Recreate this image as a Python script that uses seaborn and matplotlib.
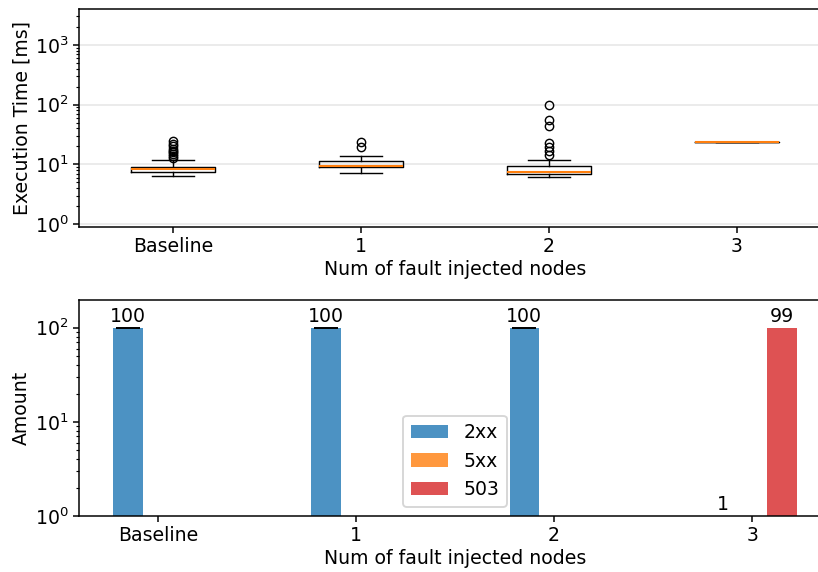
import numpy as np
import pandas as pd
import matplotlib
matplotlib.use("Agg")
import matplotlib.pyplot as plt
import seaborn as sns

# ---- data -------------------------------------------------------------
groups = ["Baseline", "1", "2", "3"]

# execution-time box summaries per group [ms]
exec_q1 = [7.35, 9.1, 6.96, 23.4]
exec_med = [8.25, 9.3, 7.43, 23.4]
exec_q3 = [9.12, 11.4, 9.25, 23.4]
exec_whislo = [6.44, 7.23, 6.06, 23.4]
exec_whishi = [11.8, 13.9, 11.8, 23.4]
exec_fliers = [
    [13, 14, 15, 16, 17, 18, 20, 22, 25],
    [19.5, 23.9],
    [14.3, 17, 19.7, 23, 44, 55, 98.5],
    [],
]

# response counts per status class
status_classes = ["2xx", "5xx", "503"]
count_2xx = [100, 100, 100, 1]
count_5xx = [0, 0, 0, 0]
count_503 = [0, 0, 0, 99]

# ---- figure -----------------------------------------------------------
DPI = 136
plt.rcParams.update({
    "xtick.major.size": 3.0,
    "ytick.major.size": 3.0,
    "ytick.minor.size": 1.6,
    "xtick.major.pad": 2.5,
    "ytick.major.pad": 2.5,
    "axes.labelpad": 2.0,
})
fig = plt.figure(figsize=(818 / DPI, 572 / DPI), dpi=DPI)
ax_top = fig.add_axes([0.0966, 0.604, 0.9193, 0.3802])
ax_bot = fig.add_axes([0.0966, 0.0979, 0.9193, 0.3776])

# ---- execution time boxplot ------------------------------------------
stats = []
for i, g in enumerate(groups):
    stats.append(dict(label=g, med=exec_med[i], q1=exec_q1[i], q3=exec_q3[i],
                      whislo=exec_whislo[i], whishi=exec_whishi[i],
                      fliers=np.array(exec_fliers[i], dtype=float)))
lw = 0.75
ax_top.bxp(stats, positions=[1, 2, 3, 4], widths=0.45,
           boxprops=dict(linewidth=lw),
           whiskerprops=dict(linewidth=lw),
           capprops=dict(linewidth=lw),
           medianprops=dict(color="tab:orange", linewidth=1.1, zorder=5),
           flierprops=dict(marker="o", markersize=4.4, markeredgewidth=lw,
                           markerfacecolor="none", markeredgecolor="black"))
ax_top.set_yscale("log")
ax_top.set_ylim(0.908, 3990)
ax_top.set_xlim(0.5, 4.5)
ax_top.yaxis.grid(True, which="major", color="#e8e8e8", linewidth=0.9)
ax_top.set_axisbelow(True)
ax_top.set_xlabel("Num of fault injected nodes")
ax_top.set_ylabel("Execution Time [ms]")

# ---- status counts bar chart -----------------------------------------
counts = {"2xx": count_2xx, "5xx": count_5xx, "503": count_503}
df = pd.DataFrame(
    [(g, s, counts[s][i]) for s in status_classes for i, g in enumerate(groups)],
    columns=["group", "status", "amount"],
)
palette = {"2xx": "tab:blue", "5xx": "tab:orange", "503": "tab:red"}
sns.barplot(data=df, x="group", y="amount", hue="status", order=groups,
            hue_order=status_classes, palette=palette, width=0.45,
            saturation=1, alpha=0.8, linewidth=0, errorbar=None, ax=ax_bot)
ax_bot.set_yscale("log")
ax_bot.set_ylim(1, 197)
ax_bot.set_xlim(-0.3975, 3.3975)
ax_bot.grid(False)

bar_containers = list(ax_bot.containers)
for cont, s in zip(bar_containers, status_classes):
    vals = counts[s]
    ax_bot.bar_label(cont, labels=[str(v) if v > 0 else "" for v in vals],
                     fontsize=10, padding=1)

# zero-width error caps on the visible 2xx bars
cont_2xx = bar_containers[0]
cap_x = [p.get_x() + p.get_width() / 2
         for p, v in zip(cont_2xx.patches, count_2xx) if v > 1]
cap_y = [v for v in count_2xx if v > 1]
ax_bot.errorbar(cap_x, cap_y, yerr=np.zeros(len(cap_x)), fmt="none",
                ecolor="black", capsize=6.6, elinewidth=0.9,
                capthick=0.9)

ax_bot.legend(handles=bar_containers, labels=status_classes,
              loc="lower center")
ax_bot.set_xlabel("Num of fault injected nodes")
ax_bot.set_ylabel("Amount")

fig.savefig("out.png", dpi=DPI)
